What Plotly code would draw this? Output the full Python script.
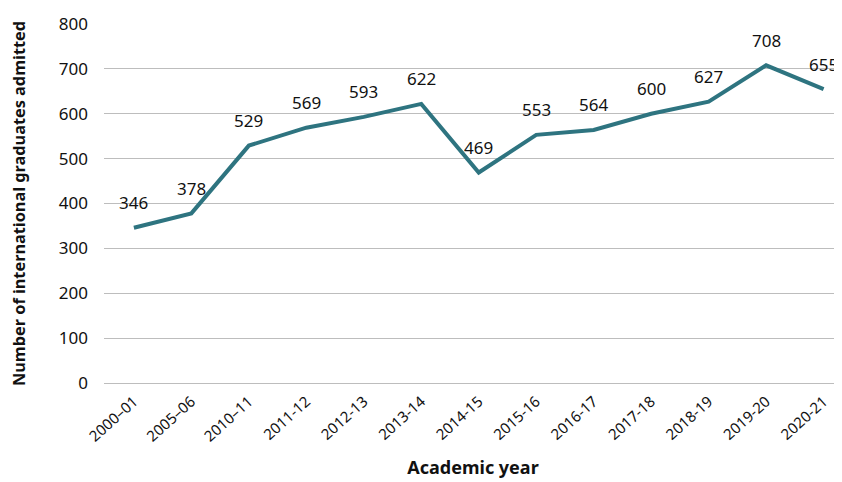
import plotly.graph_objects as go

years = ["2000–01", "2005–06", "2010–11", "2011-12", "2012-13", "2013-14", "2014-15",
         "2015-16", "2016-17", "2017-18", "2018-19", "2019-20", "2020-21"]
admitted = [346, 378, 529, 569, 593, 622, 469, 553, 564, 600, 627, 708, 655]
y_ticks = [0, 100, 200, 300, 400, 500, 600, 700, 800]

FONT = "Noto Sans"
xs = list(range(len(years)))

fig = go.Figure()
fig.add_trace(go.Scatter(
    x=xs, y=admitted, mode="lines",
    line=dict(color="#2E7480", width=4),
    hoverinfo="skip", showlegend=False, cliponaxis=False,
))
for xi, v in zip(xs, admitted):
    fig.add_annotation(x=xi, y=v, text=str(v), showarrow=False, yshift=25,
                       font=dict(family=FONT, size=17, color="#111111"))

fig.update_layout(
    width=834, height=474,
    margin=dict(l=96, r=0, t=16, b=99),
    paper_bgcolor="white", plot_bgcolor="white",
    font=dict(family=FONT, color="#111111"),
    xaxis=dict(
        tickmode="array", tickvals=xs, ticktext=years,
        range=[-0.52, 12.32], tickangle=-42, showgrid=False, automargin=False,
        tickfont=dict(family=FONT, size=15, color="#111111"),
        ticklabelstandoff=6,
        title=dict(text="<b>Academic year</b>", font=dict(family=FONT, size=18), standoff=16),
        zeroline=False, showline=False,
    ),
    yaxis=dict(
        range=[0, 800], tickvals=y_ticks, automargin=False,
        showgrid=True, gridcolor="#BDBDBD", gridwidth=1,
        zeroline=True, zerolinecolor="#BDBDBD", zerolinewidth=1,
        tickfont=dict(family=FONT, size=17, color="#111111"),
        ticklabelstandoff=15,
        title=dict(text="<b>Number of international graduates admitted</b>",
                   font=dict(family=FONT, size=16.3), standoff=30),
    ),
)

fig.write_html("out.html")
